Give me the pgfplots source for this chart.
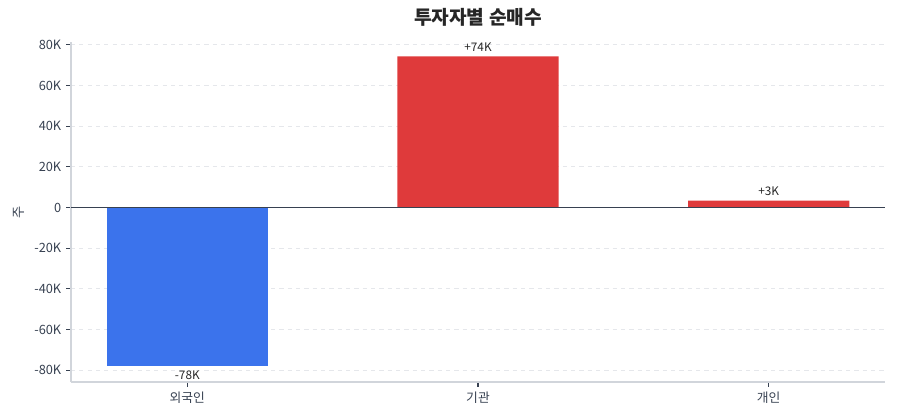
\documentclass[border=0pt]{standalone}
\usepackage{fontspec}
\setmainfont{Noto Sans CJK KR}
\usepackage{pgfplots}
\pgfplotsset{compat=1.18}

\definecolor{barblue}{HTML}{3B73EC}
\definecolor{barred}{HTML}{DF3A3B}
\definecolor{txt}{HTML}{374151}
\definecolor{spine}{HTML}{D1D5DB}
\definecolor{gridc}{HTML}{E5E7EB}
\definecolor{zero}{HTML}{374151}

\begin{document}
\begin{tikzpicture}
% 1px = 0.72pt; page 900x420 px
\path (-51.12pt,-27.36pt) rectangle (596.88pt,275.04pt);
\begin{axis}[
    at={(0,0)}, anchor=south west,
    scale only axis,
    width=586.08pt,
    height=244.8pt,
    xmin=-0.4, xmax=2.4,
    ymin=-85800, ymax=81400,
    axis x line*=bottom,
    axis y line*=left,
    axis line style={spine, line width=1pt, -},
    xtick={0,1,2},
    xticklabels={외국인,기관,개인},
    ytick={-80000,-60000,-40000,-20000,0,20000,40000,60000,80000},
    yticklabels={-80K,-60K,-40K,-20K,0,20K,40K,60K,80K},
    scaled y ticks=false,
    tick align=outside,
    major tick length=3.5pt,
    tick style={txt, line width=0.8pt},
    ticklabel style={font=\fontsize{9.2}{10}\selectfont, text=txt},
    ymajorgrids=true,
    grid style={gridc, dashed, line width=0.6pt},
    ylabel={주},
    ylabel style={font=\fontsize{9.5}{10}\selectfont, text=txt},
    title={투자자별 순매수},
    title style={font=\fontsize{13.8}{15}\selectfont\bfseries, text=black!85, yshift=2pt},
    bar width=0.555,
    nodes near coords,
    point meta=explicit symbolic,
    every node near coord/.append style={font=\fontsize{8.5}{9}\selectfont, text=black!85},
    clip=false,
]
\addplot[ybar, fill=barblue, draw=none, nodes near coords align={below}] coordinates {(0,-78000) [-78K]};
\addplot[ybar, fill=barred, draw=none] coordinates {(1,74300) [+74K] (2,3400) [+3K]};
\draw[zero, line width=0.8pt] (axis cs:-0.4,0) -- (axis cs:2.4,0);
\end{axis}
\end{tikzpicture}
\end{document}
